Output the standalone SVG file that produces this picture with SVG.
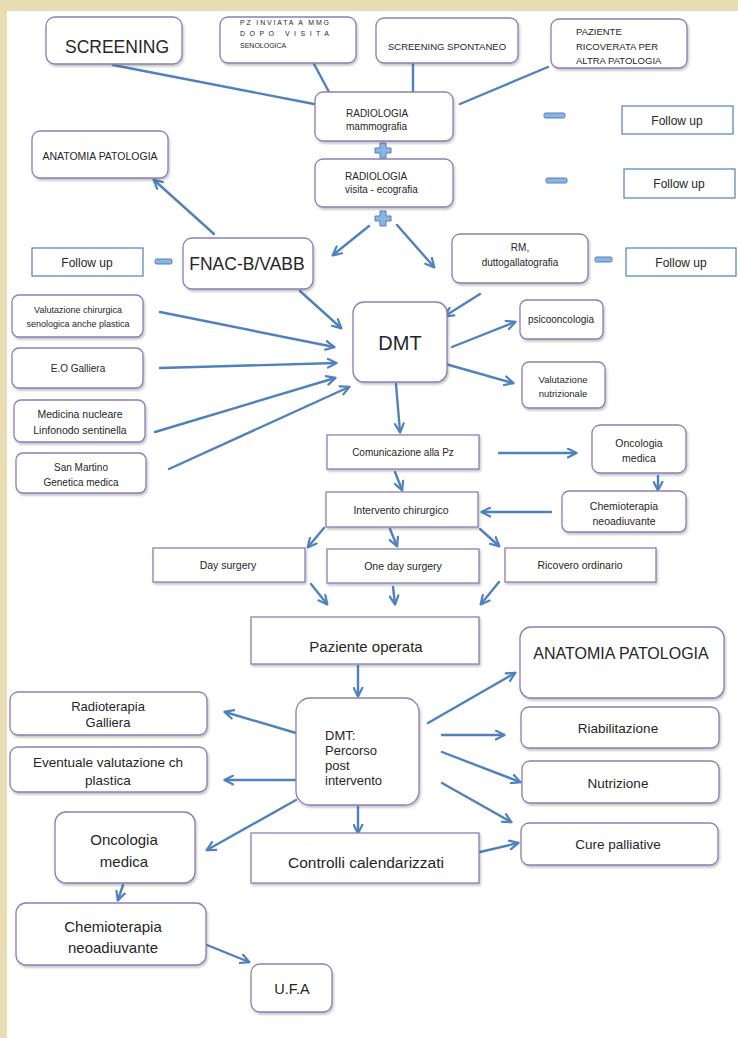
<svg xmlns="http://www.w3.org/2000/svg" width="738" height="1038" viewBox="0 0 738 1038">
<defs>
<style>
.bx{fill:#fff;stroke:#8a80b5;stroke-width:1.3;filter:url(#sh)}
.fu{fill:#fff;stroke:#4f81bd;stroke-width:1.2}
.t{font-family:"Liberation Sans",Arial,sans-serif;fill:#262626}
.m{text-anchor:middle}
.ln{fill:none;stroke:#4f81bd;stroke-width:2.4;stroke-linecap:round}
.ar{marker-end:url(#ah)}
.sg{fill:#8db3e2;stroke:#4f81bd;stroke-width:1}
</style>
<filter id="sh" x="-10%" y="-10%" width="130%" height="140%">
<feDropShadow dx="1.2" dy="2" stdDeviation="1.3" flood-color="#555" flood-opacity="0.35"/>
</filter>
<marker id="ah" viewBox="0 0 10 10" refX="8.5" refY="5" markerWidth="11" markerHeight="11" markerUnits="userSpaceOnUse" orient="auto">
<path d="M1,1 L9,5 L1,9" fill="none" stroke="#4f81bd" stroke-width="2" stroke-linecap="round" stroke-linejoin="round"/>
</marker>
</defs>
<rect x="0" y="0" width="738" height="1038" fill="#e8dcb2"/>
<rect x="7" y="11" width="731" height="1027" fill="#fff"/>

<g id="connectors">
<line class="ln" x1="113" y1="65" x2="314" y2="104"/>
<line class="ln" x1="314" y1="64" x2="329" y2="92"/>
<line class="ln" x1="413" y1="64" x2="413" y2="93"/>
<line class="ln" x1="548" y1="67" x2="460" y2="104"/>
<line class="ln ar" x1="214" y1="234" x2="154" y2="180"/>
<line class="ln ar" x1="369" y1="226" x2="333" y2="255"/>
<line class="ln ar" x1="397" y1="225" x2="434" y2="267"/>
<line class="ln ar" x1="300" y1="291" x2="341" y2="328"/>
<line class="ln ar" x1="480" y1="294" x2="445" y2="316"/>
<line class="ln ar" x1="160" y1="312" x2="334" y2="347"/>
<line class="ln ar" x1="160" y1="368" x2="336" y2="363"/>
<line class="ln ar" x1="155" y1="432" x2="335" y2="378"/>
<line class="ln ar" x1="169" y1="469" x2="349" y2="387"/>
<line class="ln ar" x1="452" y1="347" x2="515" y2="322"/>
<line class="ln ar" x1="442" y1="363" x2="513" y2="383"/>
<line class="ln ar" x1="396" y1="384" x2="400" y2="432"/>
<line class="ln ar" x1="499" y1="453" x2="576" y2="453"/>
<line class="ln ar" x1="658" y1="476" x2="658" y2="490"/>
<line class="ln ar" x1="551" y1="512" x2="482" y2="512"/>
<line class="ln ar" x1="395" y1="472" x2="402" y2="490"/>
<line class="ln ar" x1="324" y1="528" x2="308" y2="547"/>
<line class="ln ar" x1="390" y1="529" x2="397" y2="546"/>
<line class="ln ar" x1="480" y1="529" x2="499" y2="546"/>
<line class="ln ar" x1="311" y1="584" x2="327" y2="604"/>
<line class="ln ar" x1="393" y1="587" x2="395" y2="604"/>
<line class="ln ar" x1="499" y1="582" x2="481" y2="604"/>
<line class="ln ar" x1="358" y1="666" x2="358" y2="696"/>
<line class="ln ar" x1="296" y1="733" x2="225" y2="712"/>
<line class="ln ar" x1="296" y1="780" x2="225" y2="780"/>
<line class="ln ar" x1="428" y1="723" x2="515" y2="673"/>
<line class="ln ar" x1="442" y1="735" x2="504" y2="735"/>
<line class="ln ar" x1="442" y1="752" x2="520" y2="782"/>
<line class="ln ar" x1="442" y1="783" x2="511" y2="822"/>
<line class="ln ar" x1="296" y1="800" x2="207" y2="850"/>
<line class="ln ar" x1="358" y1="807" x2="358" y2="833"/>
<line class="ln ar" x1="480" y1="852" x2="518" y2="843"/>
<line class="ln ar" x1="123" y1="885" x2="118" y2="900"/>
<line class="ln ar" x1="207" y1="945" x2="249" y2="962"/>
</g>

<g id="signs">
<path class="sg" d="M380,143 h6 v5 h5 v5 h-5 v5 h-6 v-5 h-5 v-5 h5 z"/>
<path class="sg" d="M380,211 h6 v5 h5 v5 h-5 v5 h-6 v-5 h-5 v-5 h5 z"/>
<rect class="sg" x="544" y="113" width="21" height="5" rx="1.5"/>
<rect class="sg" x="546" y="178" width="21" height="5" rx="1.5"/>
<rect class="sg" x="155" y="259" width="17" height="5" rx="1.5"/>
<rect class="sg" x="595" y="257" width="17" height="5" rx="1.5"/>
</g>

<g id="n-screening"><rect class="bx" x="46" y="17" width="136" height="47" rx="9"/><text class="t m" x="117" y="53" font-size="17.5">SCREENING</text></g>
<g id="n-pz"><rect class="bx" x="220" y="17" width="136" height="46" rx="8"/>
<text class="t" x="240" y="25" font-size="7" textLength="89" lengthAdjust="spacing">PZ INVIATA A MMG</text>
<text class="t" x="240" y="36" font-size="7" textLength="89" lengthAdjust="spacing">DOPO VISITA</text>
<text class="t" x="240" y="48" font-size="7">SENOLOGICA</text></g>
<g id="n-spontaneo"><rect class="bx" x="376" y="18" width="142" height="45" rx="8"/><text class="t m" x="447" y="49.5" font-size="9.5">SCREENING SPONTANEO</text></g>
<g id="n-paziente"><rect class="bx" x="551" y="19" width="136" height="49" rx="8"/>
<text class="t" x="576" y="35" font-size="9.5">PAZIENTE</text>
<text class="t" x="576" y="50" font-size="9.5">RICOVERATA PER</text>
<text class="t" x="576" y="64" font-size="9.5">ALTRA PATOLOGIA</text></g>
<g id="n-radio1"><rect class="bx" x="315" y="92" width="138" height="49" rx="8"/>
<text class="t" x="346" y="117" font-size="10">RADIOLOGIA</text>
<text class="t" x="346" y="130" font-size="10">mammografia</text></g>
<g id="n-followup1"><rect class="fu" x="622" y="106" width="111" height="28"/><text class="t m" x="677" y="124.5" font-size="12">Follow up</text></g>
<g id="n-anatomia1"><rect class="bx" x="32" y="131" width="136" height="47" rx="8"/><text class="t m" x="100" y="160" font-size="10.5">ANATOMIA PATOLOGIA</text></g>
<g id="n-radio2"><rect class="bx" x="315" y="159" width="138" height="48" rx="8"/>
<text class="t" x="345" y="180" font-size="10">RADIOLOGIA</text>
<text class="t" x="345" y="193" font-size="10">visita - ecografia</text></g>
<g id="n-followup2"><rect class="fu" x="624" y="169" width="111" height="29"/><text class="t m" x="679" y="188" font-size="12">Follow up</text></g>
<g id="n-followupL"><rect class="fu" x="32" y="248" width="111" height="28"/><text class="t m" x="87" y="266.5" font-size="12">Follow up</text></g>
<g id="n-fnac"><rect class="bx" x="183" y="238" width="130" height="51" rx="9"/><text class="t m" x="247" y="270" font-size="17.5">FNAC-B/VABB</text></g>
<g id="n-rm"><rect class="bx" x="452" y="234" width="136" height="49" rx="8"/>
<text class="t m" x="520" y="251" font-size="10">RM,</text>
<text class="t m" x="520" y="266" font-size="10">duttogallatografia</text></g>
<g id="n-followupR"><rect class="fu" x="626" y="248" width="110" height="28"/><text class="t m" x="681" y="266.5" font-size="12">Follow up</text></g>
<g id="n-valchir"><rect class="bx" x="12" y="295" width="131" height="42" rx="7"/>
<text class="t m" x="78" y="313" font-size="9">Valutazione chirurgica</text>
<text class="t m" x="78" y="327" font-size="9">senologica anche plastica</text></g>
<g id="n-eo"><rect class="bx" x="12" y="348" width="131" height="40" rx="7"/><text class="t m" x="78" y="372" font-size="10">E.O Galliera</text></g>
<g id="n-medicina"><rect class="bx" x="14" y="400" width="131" height="42" rx="7"/>
<text class="t m" x="80" y="418" font-size="10.5">Medicina nucleare</text>
<text class="t m" x="80" y="434" font-size="10.5">Linfonodo sentinella</text></g>
<g id="n-sanmartino"><rect class="bx" x="16" y="453" width="130" height="40" rx="7"/>
<text class="t m" x="81" y="471" font-size="10">San Martino</text>
<text class="t m" x="81" y="486" font-size="10">Genetica medica</text></g>
<g id="n-dmt"><rect class="bx" x="353" y="302" width="94" height="80" rx="11"/><text class="t m" x="400" y="350" font-size="20">DMT</text></g>
<g id="n-psico"><rect class="bx" x="520" y="300" width="83" height="39" rx="7"/><text class="t m" x="561" y="323" font-size="10">psicooncologia</text></g>
<g id="n-valnutr"><rect class="bx" x="522" y="362" width="83" height="46" rx="7"/>
<text class="t m" x="563" y="383" font-size="9.5">Valutazione</text>
<text class="t m" x="563" y="397" font-size="9.5">nutrizionale</text></g>
<g id="n-comunicazione"><rect class="bx" x="327" y="435" width="152" height="34"/><text class="t m" x="403" y="456" font-size="10">Comunicazione alla Pz</text></g>
<g id="n-onc1"><rect class="bx" x="592" y="425" width="94" height="48" rx="8"/>
<text class="t m" x="639" y="447" font-size="10.5">Oncologia</text>
<text class="t m" x="639" y="462" font-size="10.5">medica</text></g>
<g id="n-chemio1"><rect class="bx" x="562" y="491" width="124" height="41" rx="7"/>
<text class="t m" x="624" y="510" font-size="10.5">Chemioterapia</text>
<text class="t m" x="624" y="525" font-size="10.5">neoadiuvante</text></g>
<g id="n-intervento"><rect class="bx" x="326" y="492" width="152" height="35"/><text class="t m" x="401" y="514" font-size="10.5">Intervento chirurgico</text></g>
<g id="n-day"><rect class="bx" x="153" y="548" width="152" height="34"/><text class="t m" x="228" y="569" font-size="10.5">Day surgery</text></g>
<g id="n-oneday"><rect class="bx" x="327" y="549" width="152" height="34"/><text class="t m" x="403" y="570" font-size="10.5">One day surgery</text></g>
<g id="n-ricovero"><rect class="bx" x="505" y="548" width="151" height="34"/><text class="t m" x="580" y="569" font-size="10.5">Ricovero ordinario</text></g>

<g id="n-pazop"><rect class="bx" x="251" y="617" width="228" height="47"/><text class="t m" x="366" y="652" font-size="15">Paziente operata</text></g>
<g id="n-anatomia2"><rect class="bx" x="520" y="627" width="204" height="71" rx="11"/><text class="t m" x="621" y="659" font-size="16">ANATOMIA PATOLOGIA</text></g>
<g id="n-dmt2"><rect class="bx" x="296" y="698" width="123" height="107" rx="14"/>
<text class="t" x="325" y="740" font-size="13">DMT:</text>
<text class="t" x="325" y="755" font-size="13">Percorso</text>
<text class="t" x="325" y="770" font-size="13">post</text>
<text class="t" x="325" y="785" font-size="13">intervento</text></g>
<g id="n-radioterapia"><rect class="bx" x="10" y="692" width="197" height="43" rx="8"/>
<text class="t m" x="108" y="711" font-size="13">Radioterapia</text>
<text class="t m" x="108" y="727" font-size="13">Galliera</text></g>
<g id="n-eventuale"><rect class="bx" x="10" y="747" width="197" height="45" rx="8"/>
<text class="t m" x="108" y="767" font-size="13.5">Eventuale valutazione ch</text>
<text class="t m" x="108" y="785" font-size="13.5">plastica</text></g>
<g id="n-riabilitazione"><rect class="bx" x="521" y="707" width="198" height="41" rx="8"/><text class="t m" x="618" y="733" font-size="13.5">Riabilitazione</text></g>
<g id="n-nutrizione"><rect class="bx" x="522" y="761" width="197" height="42" rx="8"/><text class="t m" x="618" y="788" font-size="13.5">Nutrizione</text></g>
<g id="n-cure"><rect class="bx" x="521" y="823" width="197" height="42" rx="8"/><text class="t m" x="618" y="849" font-size="13.5">Cure palliative</text></g>
<g id="n-onc2"><rect class="bx" x="55" y="812" width="140" height="71" rx="11"/>
<text class="t m" x="124" y="845" font-size="15">Oncologia</text>
<text class="t m" x="124" y="867" font-size="15">medica</text></g>
<g id="n-controlli"><rect class="bx" x="251" y="833" width="228" height="50"/><text class="t m" x="366" y="868" font-size="15.5">Controlli calendarizzati</text></g>
<g id="n-chemio2"><rect class="bx" x="16" y="903" width="190" height="62" rx="10"/>
<text class="t m" x="113" y="932" font-size="15">Chemioterapia</text>
<text class="t m" x="113" y="953" font-size="15">neoadiuvante</text></g>
<g id="n-ufa"><rect class="bx" x="251" y="964" width="81" height="48" rx="9"/><text class="t m" x="292" y="994" font-size="14.5">U.F.A</text></g>
</svg>
